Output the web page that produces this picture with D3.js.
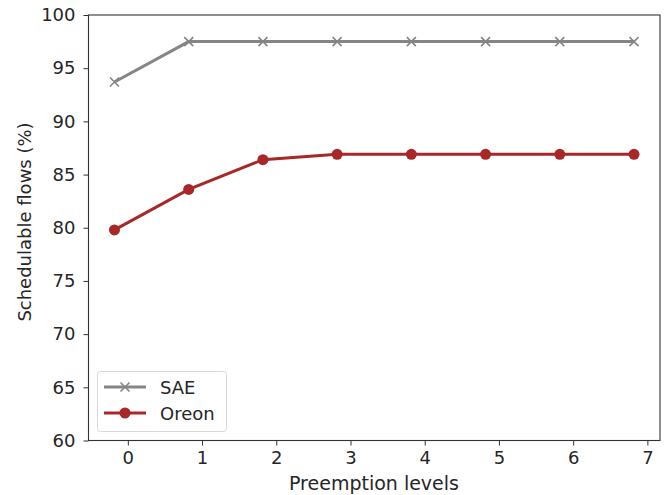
<!DOCTYPE html>
<html><head><meta charset="utf-8">
<script src="https://cdn.jsdelivr.net/npm/d3@7"></script>
<style>body{margin:0;background:#fff}svg{display:block}text{font-family:"DejaVu Sans",sans-serif;fill:#262626}</style>
</head><body>
<svg id="c" width="664" height="495"></svg>
<script>
const levels = [0,1,2,3,4,5,6,7];
const xOffset = -0.18;
const saeValues = [93.7,97.5,97.5,97.5,97.5,97.5,97.5,97.5];
const oreonValues = [79.8,83.6,86.4,86.9,86.9,86.9,86.9,86.9];
const xTicks = [0,1,2,3,4,5,6,7];
const yTicks = [60,65,70,75,80,85,90,95,100];
const seriesNames = ["SAE","Oreon"];

const L=88.5, R=660, T=15, B=440.5;
const svg = d3.select("#c");
const x = d3.scaleLinear().domain([-0.53,7.17]).range([L,R]);
const y = d3.scaleLinear().domain([60,100]).range([B,T]);

// axes
const xAxis = svg.append("g").attr("transform",`translate(0,${B})`)
  .call(d3.axisBottom(x).tickValues(xTicks).tickSize(5).tickPadding(6).tickFormat(d3.format("d")));
const yAxis = svg.append("g").attr("transform",`translate(${L},0)`)
  .call(d3.axisLeft(y).tickValues(yTicks).tickSize(5).tickPadding(8).tickFormat(d3.format("d")));
[xAxis,yAxis].forEach(g=>{
  g.select(".domain").remove();
  g.selectAll(".tick line").attr("stroke","#333").attr("stroke-width",1);
  g.selectAll(".tick text").attr("font-size","18px").attr("fill","#262626");
});
// frame
svg.append("rect").attr("x",L).attr("y",T).attr("width",R-L).attr("height",B-T)
  .attr("fill","none").attr("stroke","#333").attr("stroke-width",1.1);

const line = d3.line().x((d,i)=>x(levels[i]+xOffset)).y(d=>y(d));
const gray="#858585", red="#a82828";

svg.append("path").datum(saeValues).attr("d",line).attr("fill","none")
  .attr("stroke",gray).attr("stroke-width",3);
const xm = (g,cx,cy,s)=>g.append("path")
  .attr("d",`M${cx-s},${cy-s}L${cx+s},${cy+s}M${cx-s},${cy+s}L${cx+s},${cy-s}`)
  .attr("stroke",gray).attr("stroke-width",1.6).attr("fill","none");
saeValues.forEach((v,i)=>xm(svg,x(levels[i]+xOffset),y(v),4.5));

svg.append("path").datum(oreonValues).attr("d",line).attr("fill","none")
  .attr("stroke",red).attr("stroke-width",3);
svg.selectAll("circle.o").data(oreonValues).enter().append("circle")
  .attr("cx",(d,i)=>x(levels[i]+xOffset)).attr("cy",d=>y(d)).attr("r",5.5).attr("fill",red);

// legend
const lg = svg.append("g");
lg.append("rect").attr("x",97.5).attr("y",371.5).attr("width",129).attr("height",60).attr("rx",3)
  .attr("fill","#fff").attr("fill-opacity",0.8).attr("stroke","#d8d8d8");
const rows=[{n:seriesNames[0],c:gray,m:"x",y:387},{n:seriesNames[1],c:red,m:"o",y:413}];
rows.forEach(r=>{
  lg.append("line").attr("x1",104).attr("x2",146).attr("y1",r.y).attr("y2",r.y)
    .attr("stroke",r.c).attr("stroke-width",3);
  if(r.m==="x") xm(lg,125,r.y,4.5);
  else lg.append("circle").attr("cx",125).attr("cy",r.y).attr("r",5.5).attr("fill",r.c);
  lg.append("text").attr("x",160).attr("y",r.y+7).attr("font-size","18px").text(r.n);
});

// labels
svg.append("text").attr("x",374).attr("y",490).attr("text-anchor","middle")
  .attr("font-size","19px").text("Preemption levels");
svg.append("text").attr("transform",`translate(31,222) rotate(-90)`).attr("text-anchor","middle")
  .attr("font-size","18px").text("Schedulable flows (%)");
</script>
</body></html>
